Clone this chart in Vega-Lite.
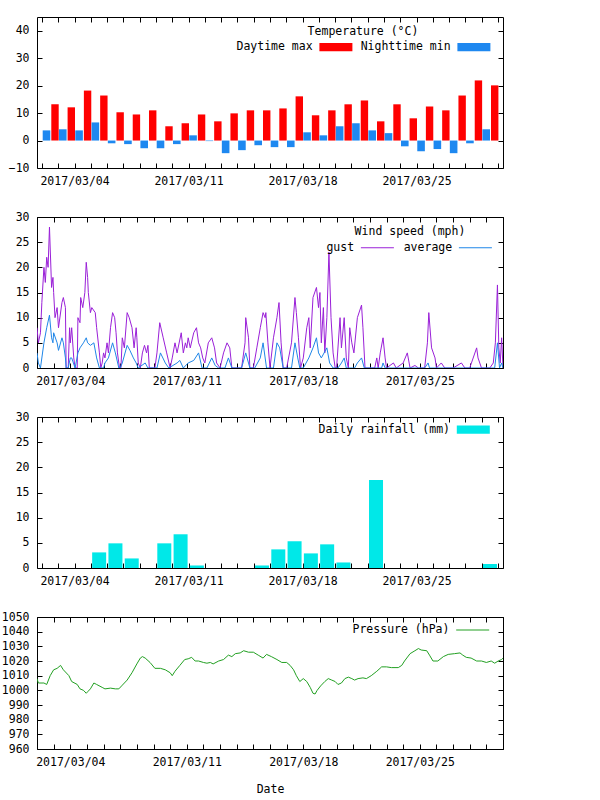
{
  "$schema": "https://vega.github.io/schema/vega-lite/v6.json",
  "background": "white",
  "padding": {"left": 0, "top": 16, "right": 0, "bottom": 0},
  "config": {
    "font": "DejaVu Sans Mono",
    "view": {"stroke": "black", "strokeWidth": 1},
    "axis": {
      "labelFont": "DejaVu Sans Mono", "labelFontSize": 11.5, "labelColor": "black",
      "grid": false, "domain": false, "tickColor": "black", "tickSize": -5,
      "titleFont": "DejaVu Sans Mono", "titleFontSize": 11.5, "titleFontWeight": "normal", "titleColor": "black"
    },
    "legend": {
      "labelFont": "DejaVu Sans Mono", "labelFontSize": 11.5, "labelColor": "black",
      "titleFont": "DejaVu Sans Mono", "titleFontSize": 11.5, "titleFontWeight": "normal", "titleColor": "black",
      "orient": "none", "padding": 0, "direction": "horizontal",
      "labelAlign": "right", "columnPadding": 7, "titleAnchor": "middle",
      "titlePadding": 1, "labelLimit": 300, "symbolSize": 272.25
    }
  },
  "datasets": {
    "temp": [
      {"date":"2017-03-02T00:00","max":13.2,"min":3.7},
      {"date":"2017-03-03T00:00","max":12.1,"min":4.1},
      {"date":"2017-03-04T00:00","max":18.2,"min":3.7},
      {"date":"2017-03-05T00:00","max":16.4,"min":6.6},
      {"date":"2017-03-06T00:00","max":10.3,"min":-1.0},
      {"date":"2017-03-07T00:00","max":9.5,"min":-1.3},
      {"date":"2017-03-08T00:00","max":11.0,"min":-2.8},
      {"date":"2017-03-09T00:00","max":5.2,"min":-2.8},
      {"date":"2017-03-10T00:00","max":6.3,"min":-1.3},
      {"date":"2017-03-11T00:00","max":9.5,"min":1.9},
      {"date":"2017-03-12T00:00","max":7.0,"min":-0.2},
      {"date":"2017-03-13T00:00","max":9.9,"min":-4.6},
      {"date":"2017-03-14T00:00","max":11.0,"min":-3.5},
      {"date":"2017-03-15T00:00","max":11.0,"min":-1.7},
      {"date":"2017-03-16T00:00","max":11.7,"min":-2.4},
      {"date":"2017-03-17T00:00","max":16.1,"min":-2.4},
      {"date":"2017-03-18T00:00","max":9.2,"min":3.0},
      {"date":"2017-03-19T00:00","max":11.0,"min":1.9},
      {"date":"2017-03-20T00:00","max":13.2,"min":5.2},
      {"date":"2017-03-21T00:00","max":14.6,"min":6.3},
      {"date":"2017-03-22T00:00","max":7.0,"min":3.7},
      {"date":"2017-03-23T00:00","max":13.2,"min":2.7},
      {"date":"2017-03-24T00:00","max":8.1,"min":-2.1},
      {"date":"2017-03-25T00:00","max":12.4,"min":-3.9},
      {"date":"2017-03-26T00:00","max":11.0,"min":-3.1},
      {"date":"2017-03-27T00:00","max":16.4,"min":-4.6},
      {"date":"2017-03-28T00:00","max":21.9,"min":-1.0},
      {"date":"2017-03-29T00:00","max":20.1,"min":4.1}
    ],
    "rain": [
      {"date":"2017-03-02T00:00","rain":0},
      {"date":"2017-03-03T00:00","rain":0},
      {"date":"2017-03-04T00:00","rain":0},
      {"date":"2017-03-05T00:00","rain":3.1},
      {"date":"2017-03-06T00:00","rain":4.9},
      {"date":"2017-03-07T00:00","rain":1.9},
      {"date":"2017-03-08T00:00","rain":0},
      {"date":"2017-03-09T00:00","rain":4.9},
      {"date":"2017-03-10T00:00","rain":6.7},
      {"date":"2017-03-11T00:00","rain":0.5},
      {"date":"2017-03-12T00:00","rain":0},
      {"date":"2017-03-13T00:00","rain":0},
      {"date":"2017-03-14T00:00","rain":0},
      {"date":"2017-03-15T00:00","rain":0.5},
      {"date":"2017-03-16T00:00","rain":3.7},
      {"date":"2017-03-17T00:00","rain":5.3},
      {"date":"2017-03-18T00:00","rain":2.9},
      {"date":"2017-03-19T00:00","rain":4.7},
      {"date":"2017-03-20T00:00","rain":1.1},
      {"date":"2017-03-21T00:00","rain":0},
      {"date":"2017-03-22T00:00","rain":17.5},
      {"date":"2017-03-23T00:00","rain":0},
      {"date":"2017-03-24T00:00","rain":0},
      {"date":"2017-03-25T00:00","rain":0},
      {"date":"2017-03-26T00:00","rain":0},
      {"date":"2017-03-27T00:00","rain":0},
      {"date":"2017-03-28T00:00","rain":0},
      {"date":"2017-03-29T00:00","rain":0.8}
    ],
    "gust": [
      {"t":"2017-03-02T00:00","v":8},{"t":"2017-03-02T02:00","v":5},{"t":"2017-03-02T05:00","v":7},{"t":"2017-03-02T07:00","v":13},{"t":"2017-03-02T10:00","v":20},{"t":"2017-03-02T12:00","v":17},{"t":"2017-03-02T14:00","v":22},{"t":"2017-03-02T16:00","v":20},{"t":"2017-03-02T18:00","v":28},{"t":"2017-03-02T21:00","v":16},{"t":"2017-03-02T23:00","v":18},
      {"t":"2017-03-03T00:00","v":15},{"t":"2017-03-03T02:00","v":10},{"t":"2017-03-03T05:00","v":12},{"t":"2017-03-03T07:00","v":8},{"t":"2017-03-03T12:00","v":13},{"t":"2017-03-03T14:00","v":14},{"t":"2017-03-03T17:00","v":12},{"t":"2017-03-03T18:00","v":0},{"t":"2017-03-03T21:00","v":0},{"t":"2017-03-03T23:00","v":8},
      {"t":"2017-03-04T00:00","v":5},{"t":"2017-03-04T02:00","v":8},{"t":"2017-03-04T05:00","v":2},{"t":"2017-03-04T07:00","v":0},{"t":"2017-03-04T10:00","v":0},{"t":"2017-03-04T11:00","v":10},{"t":"2017-03-04T14:00","v":9},{"t":"2017-03-04T15:00","v":14},{"t":"2017-03-04T18:00","v":12},{"t":"2017-03-04T21:00","v":15},{"t":"2017-03-04T23:00","v":21},
      {"t":"2017-03-05T01:00","v":18},{"t":"2017-03-05T02:00","v":15},{"t":"2017-03-05T05:00","v":11},{"t":"2017-03-05T07:00","v":12},{"t":"2017-03-05T12:00","v":11},{"t":"2017-03-05T14:00","v":8},{"t":"2017-03-05T18:00","v":3},{"t":"2017-03-05T20:00","v":0},{"t":"2017-03-05T22:00","v":1},
      {"t":"2017-03-06T00:00","v":3},{"t":"2017-03-06T02:00","v":2},{"t":"2017-03-06T05:00","v":5},{"t":"2017-03-06T07:00","v":3},{"t":"2017-03-06T10:00","v":8},{"t":"2017-03-06T13:00","v":11},{"t":"2017-03-06T16:00","v":10},{"t":"2017-03-06T18:00","v":7},{"t":"2017-03-06T20:00","v":3},{"t":"2017-03-06T23:00","v":0},
      {"t":"2017-03-07T01:00","v":0},{"t":"2017-03-07T03:00","v":6},{"t":"2017-03-07T06:00","v":4},{"t":"2017-03-07T10:00","v":11},{"t":"2017-03-07T13:00","v":10},{"t":"2017-03-07T17:00","v":8},{"t":"2017-03-07T20:00","v":4},{"t":"2017-03-07T23:00","v":8},
      {"t":"2017-03-08T00:00","v":6},{"t":"2017-03-08T02:00","v":1},{"t":"2017-03-08T05:00","v":0},{"t":"2017-03-08T08:00","v":3},{"t":"2017-03-08T11:00","v":4.5},{"t":"2017-03-08T14:00","v":3},{"t":"2017-03-08T16:00","v":4.5},{"t":"2017-03-08T18:00","v":0},
      {"t":"2017-03-09T00:00","v":0},{"t":"2017-03-09T02:00","v":0},{"t":"2017-03-09T05:00","v":3},{"t":"2017-03-09T09:00","v":9},{"t":"2017-03-09T14:00","v":6},{"t":"2017-03-09T19:00","v":3},
      {"t":"2017-03-10T00:00","v":0},{"t":"2017-03-10T03:00","v":2},{"t":"2017-03-10T07:00","v":5},{"t":"2017-03-10T10:00","v":3},{"t":"2017-03-10T16:00","v":7},{"t":"2017-03-10T19:00","v":3},{"t":"2017-03-10T22:00","v":5},
      {"t":"2017-03-11T00:00","v":4},{"t":"2017-03-11T02:00","v":6},{"t":"2017-03-11T05:00","v":4},{"t":"2017-03-11T10:00","v":7},{"t":"2017-03-11T14:00","v":8},{"t":"2017-03-11T17:00","v":5},{"t":"2017-03-11T20:00","v":4},{"t":"2017-03-11T23:00","v":2},
      {"t":"2017-03-12T02:00","v":1},{"t":"2017-03-12T07:00","v":5},{"t":"2017-03-12T12:00","v":6},{"t":"2017-03-12T16:00","v":4},{"t":"2017-03-12T19:00","v":1},
      {"t":"2017-03-13T00:00","v":0},{"t":"2017-03-13T05:00","v":3},{"t":"2017-03-13T10:00","v":5},{"t":"2017-03-13T14:00","v":4},{"t":"2017-03-13T17:00","v":0},
      {"t":"2017-03-14T00:00","v":0},{"t":"2017-03-14T07:00","v":0},{"t":"2017-03-14T12:00","v":5},{"t":"2017-03-14T13:00","v":10},{"t":"2017-03-14T17:00","v":6},{"t":"2017-03-14T19:00","v":0},
      {"t":"2017-03-15T00:00","v":0},{"t":"2017-03-15T05:00","v":4},{"t":"2017-03-15T10:00","v":8},{"t":"2017-03-15T14:00","v":11},{"t":"2017-03-15T17:00","v":10},{"t":"2017-03-15T18:00","v":11},{"t":"2017-03-15T21:00","v":5},
      {"t":"2017-03-16T00:00","v":0},{"t":"2017-03-16T05:00","v":6},{"t":"2017-03-16T10:00","v":10},{"t":"2017-03-16T13:00","v":13},{"t":"2017-03-16T16:00","v":5},{"t":"2017-03-16T19:00","v":0},
      {"t":"2017-03-17T00:00","v":0},{"t":"2017-03-17T07:00","v":5},{"t":"2017-03-17T12:00","v":14},{"t":"2017-03-17T14:00","v":11},{"t":"2017-03-17T17:00","v":6},{"t":"2017-03-17T20:00","v":0},
      {"t":"2017-03-18T00:00","v":2},{"t":"2017-03-18T05:00","v":8},{"t":"2017-03-18T08:00","v":10},{"t":"2017-03-18T10:00","v":4},{"t":"2017-03-18T14:00","v":14},{"t":"2017-03-18T19:00","v":16},{"t":"2017-03-18T22:00","v":12},
      {"t":"2017-03-19T00:00","v":15},{"t":"2017-03-19T02:00","v":5},{"t":"2017-03-19T05:00","v":12},{"t":"2017-03-19T07:00","v":3},{"t":"2017-03-19T10:00","v":10},{"t":"2017-03-19T13:00","v":23},{"t":"2017-03-19T16:00","v":10},{"t":"2017-03-19T19:00","v":3},{"t":"2017-03-19T22:00","v":0},
      {"t":"2017-03-20T00:00","v":0},{"t":"2017-03-20T05:00","v":10},{"t":"2017-03-20T07:00","v":4},{"t":"2017-03-20T11:00","v":10},{"t":"2017-03-20T14:00","v":2},{"t":"2017-03-20T17:00","v":0},{"t":"2017-03-20T19:00","v":8},{"t":"2017-03-20T22:00","v":5},
      {"t":"2017-03-21T01:00","v":3},{"t":"2017-03-21T06:00","v":10},{"t":"2017-03-21T12:00","v":12.5},{"t":"2017-03-21T14:00","v":8},{"t":"2017-03-21T17:00","v":0},
      {"t":"2017-03-22T00:00","v":0},{"t":"2017-03-22T07:00","v":0},{"t":"2017-03-22T10:00","v":2},{"t":"2017-03-22T12:00","v":0},{"t":"2017-03-22T15:00","v":3},{"t":"2017-03-22T19:00","v":6},{"t":"2017-03-22T22:00","v":2},
      {"t":"2017-03-23T00:00","v":0},{"t":"2017-03-23T10:00","v":1},{"t":"2017-03-23T14:00","v":0},
      {"t":"2017-03-24T00:00","v":1},{"t":"2017-03-24T06:00","v":3},{"t":"2017-03-24T10:00","v":0},{"t":"2017-03-24T17:00","v":0.5},{"t":"2017-03-24T22:00","v":0},
      {"t":"2017-03-25T07:00","v":0},{"t":"2017-03-25T11:00","v":5},{"t":"2017-03-25T13:00","v":11},{"t":"2017-03-25T17:00","v":4},{"t":"2017-03-25T22:00","v":2},
      {"t":"2017-03-26T00:00","v":0},{"t":"2017-03-26T07:00","v":1},{"t":"2017-03-26T12:00","v":0},
      {"t":"2017-03-27T00:00","v":0},{"t":"2017-03-27T12:00","v":1},{"t":"2017-03-27T17:00","v":0},
      {"t":"2017-03-28T00:00","v":0},{"t":"2017-03-28T10:00","v":4},{"t":"2017-03-28T12:00","v":2},{"t":"2017-03-28T17:00","v":0},
      {"t":"2017-03-29T00:00","v":0},{"t":"2017-03-29T05:00","v":0},{"t":"2017-03-29T10:00","v":1},{"t":"2017-03-29T13:00","v":5},{"t":"2017-03-29T16:00","v":16.5},{"t":"2017-03-29T18:00","v":4},{"t":"2017-03-29T20:00","v":1},{"t":"2017-03-29T22:00","v":6},
      {"t":"2017-03-30T00:00","v":0}
    ],
    "avg": [
      {"t":"2017-03-02T00:00","v":3},{"t":"2017-03-02T02:00","v":1},{"t":"2017-03-02T05:00","v":0},{"t":"2017-03-02T10:00","v":5},{"t":"2017-03-02T14:00","v":8},{"t":"2017-03-02T18:00","v":10.5},{"t":"2017-03-02T21:00","v":6},{"t":"2017-03-02T23:00","v":5},
      {"t":"2017-03-03T00:00","v":7},{"t":"2017-03-03T05:00","v":5},{"t":"2017-03-03T07:00","v":3.5},{"t":"2017-03-03T12:00","v":6},{"t":"2017-03-03T14:00","v":5},{"t":"2017-03-03T17:00","v":2},{"t":"2017-03-03T18:00","v":0},{"t":"2017-03-03T21:00","v":0},
      {"t":"2017-03-04T00:00","v":2},{"t":"2017-03-04T02:00","v":2},{"t":"2017-03-04T07:00","v":0},{"t":"2017-03-04T11:00","v":3},{"t":"2017-03-04T14:00","v":4},{"t":"2017-03-04T19:00","v":5},{"t":"2017-03-04T23:00","v":6},
      {"t":"2017-03-05T01:00","v":5},{"t":"2017-03-05T05:00","v":4.5},{"t":"2017-03-05T10:00","v":5},{"t":"2017-03-05T14:00","v":2},{"t":"2017-03-05T18:00","v":0},
      {"t":"2017-03-06T00:00","v":0},{"t":"2017-03-06T02:00","v":1},{"t":"2017-03-06T07:00","v":2},{"t":"2017-03-06T13:00","v":5},{"t":"2017-03-06T17:00","v":3},{"t":"2017-03-06T22:00","v":0},
      {"t":"2017-03-07T00:00","v":0},{"t":"2017-03-07T03:00","v":1},{"t":"2017-03-07T10:00","v":4.5},{"t":"2017-03-07T14:00","v":3.5},{"t":"2017-03-07T19:00","v":2},{"t":"2017-03-07T23:00","v":1},
      {"t":"2017-03-08T02:00","v":0},{"t":"2017-03-08T12:00","v":1},{"t":"2017-03-08T16:00","v":0},
      {"t":"2017-03-09T05:00","v":0},{"t":"2017-03-09T10:00","v":3},{"t":"2017-03-09T17:00","v":1},{"t":"2017-03-09T22:00","v":0},
      {"t":"2017-03-10T10:00","v":1},{"t":"2017-03-10T14:00","v":1.5},{"t":"2017-03-10T19:00","v":0},
      {"t":"2017-03-11T02:00","v":1},{"t":"2017-03-11T10:00","v":1.5},{"t":"2017-03-11T17:00","v":3},{"t":"2017-03-11T22:00","v":0},
      {"t":"2017-03-12T05:00","v":0},{"t":"2017-03-12T12:00","v":2},{"t":"2017-03-12T17:00","v":0.5},{"t":"2017-03-12T22:00","v":0},
      {"t":"2017-03-13T07:00","v":0},{"t":"2017-03-13T12:00","v":2},{"t":"2017-03-13T17:00","v":0},
      {"t":"2017-03-14T07:00","v":0},{"t":"2017-03-14T13:00","v":3},{"t":"2017-03-14T17:00","v":1},{"t":"2017-03-14T19:00","v":0},
      {"t":"2017-03-15T02:00","v":0},{"t":"2017-03-15T10:00","v":2},{"t":"2017-03-15T14:00","v":5},{"t":"2017-03-15T19:00","v":0},
      {"t":"2017-03-16T05:00","v":0},{"t":"2017-03-16T10:00","v":5},{"t":"2017-03-16T14:00","v":4},{"t":"2017-03-16T19:00","v":0},
      {"t":"2017-03-17T07:00","v":0},{"t":"2017-03-17T12:00","v":5},{"t":"2017-03-17T16:00","v":2},{"t":"2017-03-17T19:00","v":0},
      {"t":"2017-03-18T00:00","v":0},{"t":"2017-03-18T08:00","v":2},{"t":"2017-03-18T14:00","v":4},{"t":"2017-03-18T19:00","v":6},{"t":"2017-03-18T22:00","v":3},
      {"t":"2017-03-19T02:00","v":2},{"t":"2017-03-19T10:00","v":4},{"t":"2017-03-19T14:00","v":1},{"t":"2017-03-19T19:00","v":0},
      {"t":"2017-03-20T02:00","v":0},{"t":"2017-03-20T07:00","v":1},{"t":"2017-03-20T11:00","v":2},{"t":"2017-03-20T14:00","v":0},
      {"t":"2017-03-21T02:00","v":0},{"t":"2017-03-21T06:00","v":1},{"t":"2017-03-21T12:00","v":2},{"t":"2017-03-21T16:00","v":0},
      {"t":"2017-03-22T17:00","v":0},{"t":"2017-03-22T19:00","v":1},{"t":"2017-03-22T22:00","v":0},
      {"t":"2017-03-25T07:00","v":0},{"t":"2017-03-25T12:00","v":1},{"t":"2017-03-25T14:00","v":0},
      {"t":"2017-03-29T12:00","v":0},{"t":"2017-03-29T16:00","v":5},{"t":"2017-03-29T19:00","v":0},{"t":"2017-03-29T22:00","v":1},{"t":"2017-03-30T00:00","v":0}
    ],
    "pres": [
      {"t":"2017-03-02T00:00","p":1008},{"t":"2017-03-02T02:00","p":1005},{"t":"2017-03-02T10:00","p":1005},{"t":"2017-03-02T14:00","p":1004},{"t":"2017-03-02T19:00","p":1010},
      {"t":"2017-03-03T00:00","p":1014},{"t":"2017-03-03T05:00","p":1015},{"t":"2017-03-03T10:00","p":1017},{"t":"2017-03-03T14:00","p":1014},{"t":"2017-03-03T22:00","p":1010},
      {"t":"2017-03-04T02:00","p":1006},{"t":"2017-03-04T10:00","p":1004},{"t":"2017-03-04T14:00","p":1001},{"t":"2017-03-04T19:00","p":1000},{"t":"2017-03-04T23:00","p":998},
      {"t":"2017-03-05T01:00","p":999},{"t":"2017-03-05T05:00","p":1001},{"t":"2017-03-05T10:00","p":1005},{"t":"2017-03-05T14:00","p":1004},{"t":"2017-03-05T22:00","p":1002},
      {"t":"2017-03-06T02:00","p":1001},{"t":"2017-03-06T10:00","p":1001.5},{"t":"2017-03-06T17:00","p":1001},{"t":"2017-03-06T22:00","p":1001},
      {"t":"2017-03-07T02:00","p":1003},{"t":"2017-03-07T10:00","p":1007},{"t":"2017-03-07T17:00","p":1012},
      {"t":"2017-03-08T00:00","p":1018},{"t":"2017-03-08T05:00","p":1022},{"t":"2017-03-08T08:00","p":1023},{"t":"2017-03-08T12:00","p":1022},{"t":"2017-03-08T19:00","p":1019},
      {"t":"2017-03-09T02:00","p":1015},{"t":"2017-03-09T10:00","p":1015},{"t":"2017-03-09T17:00","p":1014},
      {"t":"2017-03-10T00:00","p":1012},{"t":"2017-03-10T03:00","p":1010},{"t":"2017-03-10T07:00","p":1013},{"t":"2017-03-10T14:00","p":1017},{"t":"2017-03-10T21:00","p":1021},
      {"t":"2017-03-11T02:00","p":1021.5},{"t":"2017-03-11T07:00","p":1022.5},{"t":"2017-03-11T12:00","p":1020},{"t":"2017-03-11T17:00","p":1020},
      {"t":"2017-03-12T00:00","p":1019},{"t":"2017-03-12T05:00","p":1018.5},{"t":"2017-03-12T10:00","p":1019},{"t":"2017-03-12T14:00","p":1018},{"t":"2017-03-12T22:00","p":1020},
      {"t":"2017-03-13T05:00","p":1021},{"t":"2017-03-13T12:00","p":1024},{"t":"2017-03-13T17:00","p":1023},{"t":"2017-03-13T22:00","p":1025},
      {"t":"2017-03-14T05:00","p":1025.5},{"t":"2017-03-14T10:00","p":1027},{"t":"2017-03-14T17:00","p":1026},
      {"t":"2017-03-15T00:00","p":1026},{"t":"2017-03-15T07:00","p":1024},{"t":"2017-03-15T14:00","p":1022},{"t":"2017-03-15T19:00","p":1024.5},
      {"t":"2017-03-16T02:00","p":1023},{"t":"2017-03-16T10:00","p":1021},{"t":"2017-03-16T17:00","p":1019},
      {"t":"2017-03-17T00:00","p":1019},{"t":"2017-03-17T05:00","p":1017},{"t":"2017-03-17T10:00","p":1014},{"t":"2017-03-17T14:00","p":1010},{"t":"2017-03-17T19:00","p":1006},
      {"t":"2017-03-18T00:00","p":1008},{"t":"2017-03-18T05:00","p":1006},{"t":"2017-03-18T10:00","p":1002},{"t":"2017-03-18T14:00","p":998},{"t":"2017-03-18T17:00","p":997.5},{"t":"2017-03-18T20:00","p":1000},
      {"t":"2017-03-19T01:00","p":1003},{"t":"2017-03-19T07:00","p":1006},{"t":"2017-03-19T12:00","p":1008},{"t":"2017-03-19T17:00","p":1007},{"t":"2017-03-19T22:00","p":1006},
      {"t":"2017-03-20T02:00","p":1004},{"t":"2017-03-20T07:00","p":1005},{"t":"2017-03-20T12:00","p":1008},{"t":"2017-03-20T17:00","p":1009},{"t":"2017-03-20T22:00","p":1008},
      {"t":"2017-03-21T02:00","p":1007},{"t":"2017-03-21T07:00","p":1008},{"t":"2017-03-21T14:00","p":1008.5},{"t":"2017-03-21T19:00","p":1008},
      {"t":"2017-03-22T02:00","p":1010},{"t":"2017-03-22T10:00","p":1013},{"t":"2017-03-22T17:00","p":1016},
      {"t":"2017-03-23T00:00","p":1016},{"t":"2017-03-23T07:00","p":1015.5},{"t":"2017-03-23T17:00","p":1015.5},{"t":"2017-03-23T22:00","p":1017},
      {"t":"2017-03-24T02:00","p":1020},{"t":"2017-03-24T10:00","p":1025},{"t":"2017-03-24T17:00","p":1027},{"t":"2017-03-24T22:00","p":1028.5},
      {"t":"2017-03-25T02:00","p":1027.5},{"t":"2017-03-25T10:00","p":1027},{"t":"2017-03-25T14:00","p":1024},{"t":"2017-03-25T19:00","p":1020},
      {"t":"2017-03-26T02:00","p":1020},{"t":"2017-03-26T10:00","p":1023},{"t":"2017-03-26T17:00","p":1024.5},
      {"t":"2017-03-27T02:00","p":1025},{"t":"2017-03-27T10:00","p":1025.5},{"t":"2017-03-27T14:00","p":1024},{"t":"2017-03-27T19:00","p":1022.5},
      {"t":"2017-03-28T02:00","p":1022},{"t":"2017-03-28T10:00","p":1020},{"t":"2017-03-28T17:00","p":1020},
      {"t":"2017-03-29T00:00","p":1019},{"t":"2017-03-29T07:00","p":1020},{"t":"2017-03-29T12:00","p":1018.5},{"t":"2017-03-29T17:00","p":1020},{"t":"2017-03-29T22:00","p":1021},{"t":"2017-03-30T00:00","p":1022}
    ]
  },
  "vconcat": [
    {
      "width": 466, "height": 151,
      "data": {"name": "temp"},
      "layer": [
        {
          "mark": {"type": "bar", "width": 7.4, "xOffset": 13, "clip": true},
          "encoding": {
            "x": {"field": "date", "type": "temporal",
              "scale": {"domain": [{"year":2017,"month":3,"date":2},{"year":2017,"month":3,"date":30}], "nice": false},
              "axis": {"orient": "bottom", "title": null, "tickCount": {"interval": "day", "step": 1}, "labelPadding": 12,
                "labelExpr": "date(datum.value) % 7 == 4 ? timeFormat(datum.value, '%Y/%m/%d') : ''"}},
            "y": {"field": "max", "type": "quantitative",
              "scale": {"domain": [-10, 45], "nice": false, "zero": false},
              "axis": {"orient": "left", "title": null, "values": [-10,0,10,20,30,40], "labelPadding": 13, "format": "d"}},
            "color": {"datum": "Daytime max",
              "scale": {"domain": ["Daytime max", "Nighttime min"], "range": ["#ff0000", "#1e88f0"]},
              "legend": {"title": "Temperature (°C)", "symbolType": "M-2,-0.5H2V0.5H-2Z", "symbolStrokeWidth": 0,
                "labelOffset": -31.75, "symbolOffset": 91.4, "legendX": 199, "legendY": 9}}
          }
        },
        {
          "mark": {"type": "bar", "width": 7.6, "xOffset": 4.5, "clip": true},
          "encoding": {
            "x": {"field": "date", "type": "temporal", "axis": null},
            "y": {"field": "min", "type": "quantitative", "axis": null},
            "color": {"datum": "Nighttime min"}
          }
        },
        {
          "mark": {"type": "point", "opacity": 0},
          "encoding": {
            "x": {"field": "date", "type": "temporal", "axis": {"orient": "top", "labels": false, "title": null, "tickCount": {"interval": "day", "step": 1}}},
            "y": {"field": "max", "type": "quantitative", "axis": {"orient": "right", "labels": false, "title": null, "values": [-10,0,10,20,30,40]}}
          }
        }
      ],
      "resolve": {"axis": {"x": "independent", "y": "independent"}}
    },
    {
      "width": 466, "height": 151,
      "layer": [
        {
          "data": {"name": "gust"},
          "mark": {"type": "line", "strokeWidth": 1, "clip": true},
          "encoding": {
            "x": {"field": "t", "type": "temporal",
              "scale": {"domain": [{"year":2017,"month":3,"date":2},{"year":2017,"month":3,"date":30}], "nice": false},
              "axis": {"orient": "bottom", "title": null, "tickCount": {"interval": "day", "step": 1}, "labelPadding": 12,
                "labelExpr": "date(datum.value) % 7 == 4 ? timeFormat(datum.value, '%Y/%m/%d') : ''"}},
            "y": {"field": "v", "type": "quantitative",
              "scale": {"domain": [0, 30], "nice": false},
              "axis": {"orient": "left", "title": null, "values": [0,5,10,15,20,25,30], "labelPadding": 13, "format": "d"}},
            "color": {"datum": "gust",
              "scale": {"domain": ["gust", "average"], "range": ["#9a20d8", "#1f86e8"]},
              "legend": {"title": "Wind speed (mph)", "symbolType": "M-2,0H2", "symbolStrokeWidth": 1,
                "labelOffset": -32.25, "symbolOffset": 42.4, "legendX": 289, "legendY": 9}}
          }
        },
        {
          "data": {"name": "avg"},
          "mark": {"type": "line", "strokeWidth": 1, "clip": true},
          "encoding": {
            "x": {"field": "t", "type": "temporal", "axis": null},
            "y": {"field": "v", "type": "quantitative", "axis": null},
            "color": {"datum": "average"}
          }
        },
        {
          "data": {"name": "gust"},
          "mark": {"type": "point", "opacity": 0},
          "encoding": {
            "x": {"field": "t", "type": "temporal", "axis": {"orient": "top", "labels": false, "title": null, "tickCount": {"interval": "day", "step": 1}}},
            "y": {"field": "v", "type": "quantitative", "axis": {"orient": "right", "labels": false, "title": null, "values": [0,5,10,15,20,25,30]}}
          }
        }
      ],
      "resolve": {"axis": {"x": "independent", "y": "independent"}}
    },
    {
      "width": 466, "height": 151,
      "data": {"name": "rain"},
      "layer": [
        {
          "mark": {"type": "bar", "width": 14, "xOffset": 8.3, "clip": true},
          "encoding": {
            "x": {"field": "date", "type": "temporal",
              "scale": {"domain": [{"year":2017,"month":3,"date":2},{"year":2017,"month":3,"date":30}], "nice": false},
              "axis": {"orient": "bottom", "title": null, "tickCount": {"interval": "day", "step": 1}, "labelPadding": 12,
                "labelExpr": "date(datum.value) % 7 == 4 ? timeFormat(datum.value, '%Y/%m/%d') : ''"}},
            "y": {"field": "rain", "type": "quantitative",
              "scale": {"domain": [0, 30], "nice": false},
              "axis": {"orient": "left", "title": null, "values": [0,5,10,15,20,25,30], "labelPadding": 13, "format": "d"}},
            "color": {"datum": "Daily rainfall (mm)",
              "scale": {"domain": ["Daily rainfall (mm)"], "range": ["#00e8e8"]},
              "legend": {"title": null, "symbolType": "M-2,-0.5H2V0.5H-2Z", "symbolStrokeWidth": 0,
                "labelOffset": -31.75, "symbolOffset": 146.8, "legendX": 281, "legendY": 4}}
          }
        },
        {
          "mark": {"type": "point", "opacity": 0},
          "encoding": {
            "x": {"field": "date", "type": "temporal", "axis": {"orient": "top", "labels": false, "title": null, "tickCount": {"interval": "day", "step": 1}}},
            "y": {"field": "rain", "type": "quantitative", "axis": {"orient": "right", "labels": false, "title": null, "values": [0,5,10,15,20,25,30]}}
          }
        }
      ],
      "resolve": {"axis": {"x": "independent", "y": "independent"}}
    },
    {
      "width": 466, "height": 132,
      "data": {"name": "pres"},
      "layer": [
        {
          "mark": {"type": "line", "strokeWidth": 1, "clip": true},
          "encoding": {
            "x": {"field": "t", "type": "temporal",
              "scale": {"domain": [{"year":2017,"month":3,"date":2},{"year":2017,"month":3,"date":30}], "nice": false},
              "axis": {"orient": "bottom", "title": "Date", "titlePadding": 16, "tickCount": {"interval": "day", "step": 1}, "labelPadding": 12,
                "labelExpr": "date(datum.value) % 7 == 4 ? timeFormat(datum.value, '%Y/%m/%d') : ''"}},
            "y": {"field": "p", "type": "quantitative",
              "scale": {"domain": [960, 1050], "nice": false, "zero": false},
              "axis": {"orient": "left", "title": null, "values": [960,970,980,990,1000,1010,1020,1030,1040,1050], "labelPadding": 13, "format": "d"}},
            "color": {"datum": "Pressure (hPa)",
              "scale": {"domain": ["Pressure (hPa)"], "range": ["#22a022"]},
              "legend": {"title": null, "symbolType": "M-2,0H2", "symbolStrokeWidth": 1,
                "labelOffset": -32.25, "symbolOffset": 111.7, "legendX": 315, "legendY": 4}}
          }
        },
        {
          "mark": {"type": "point", "opacity": 0},
          "encoding": {
            "x": {"field": "t", "type": "temporal", "axis": {"orient": "top", "labels": false, "title": null, "tickCount": {"interval": "day", "step": 1}}},
            "y": {"field": "p", "type": "quantitative", "axis": {"orient": "right", "labels": false, "title": null, "values": [960,970,980,990,1000,1010,1020,1030,1040,1050]}}
          }
        }
      ],
      "resolve": {"axis": {"x": "independent", "y": "independent"}}
    }
  ],
  "spacing": 49,
  "bounds": "flush",
  "resolve": {"scale": {"color": "independent"}, "legend": {"color": "independent"}}
}
